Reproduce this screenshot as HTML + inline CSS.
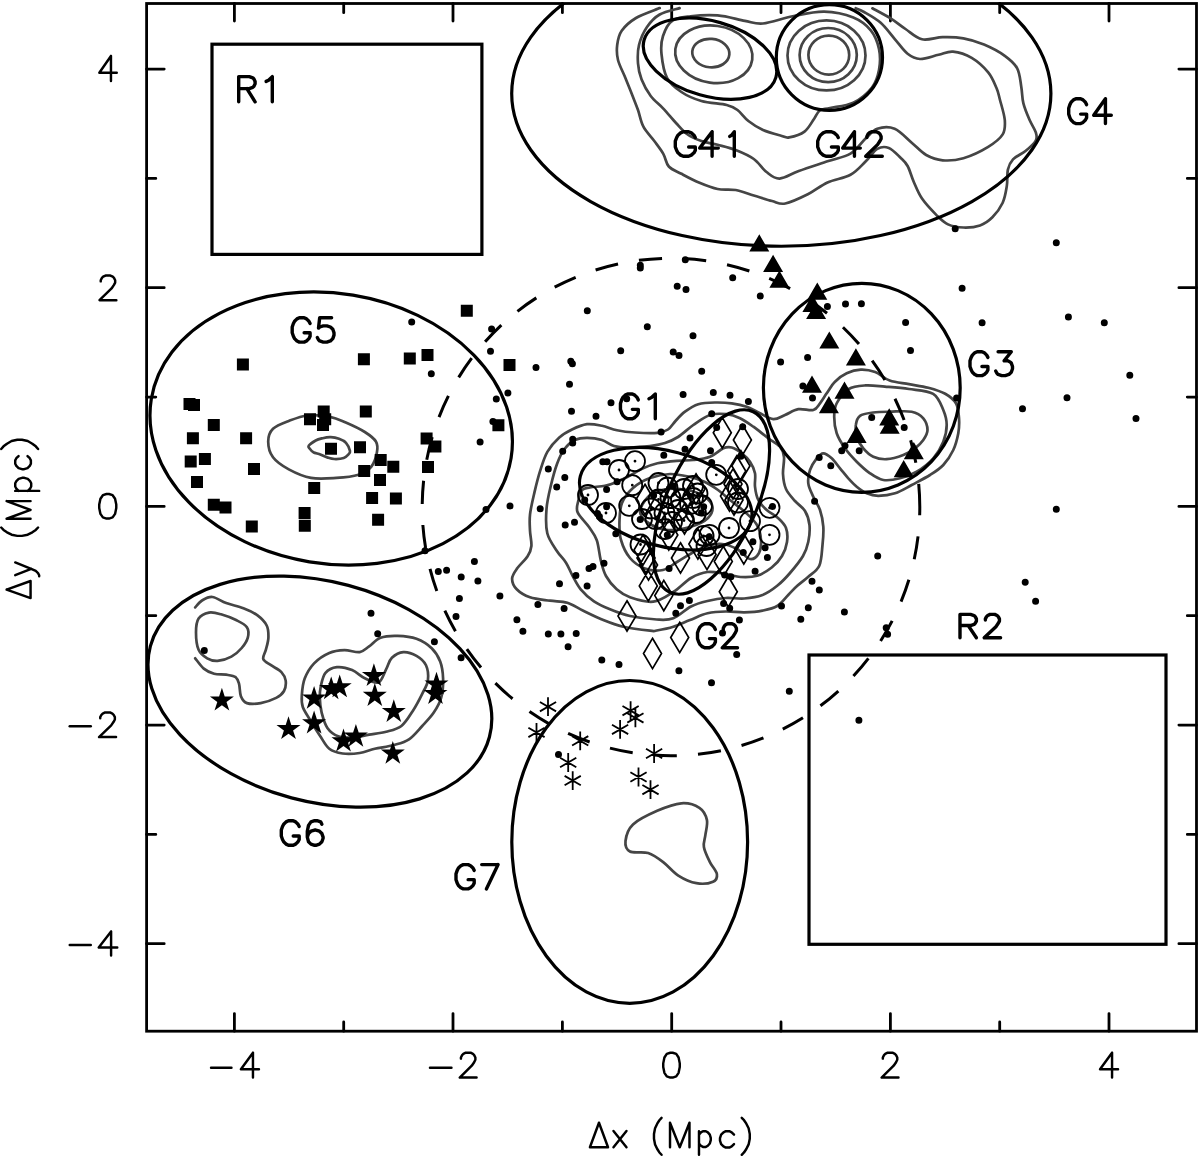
<!DOCTYPE html>
<html><head><meta charset="utf-8"><style>
html,body{margin:0;padding:0;background:#fff;}
svg{display:block;}
text{font-family:"Liberation Sans", sans-serif;fill:#000;}
</style></head><body>
<svg width="1200" height="1160" viewBox="0 0 1200 1160">
<rect width="1200" height="1160" fill="#fff"/>
<rect x="146.6" y="3.5" width="1049.9" height="1027.7" fill="none" stroke="#000" stroke-width="2.8"/>
<path d="M234.4 1031.2V1013.6M234.4 3.5V21.1M146.6 943.7H164.2M1196.5 943.7H1178.9M343.7 1031.2V1022.0M343.7 3.5V12.7M146.6 834.4H155.8M1196.5 834.4H1187.3M453.0 1031.2V1013.6M453.0 3.5V21.1M146.6 725.1H164.2M1196.5 725.1H1178.9M562.4 1031.2V1022.0M562.4 3.5V12.7M146.6 615.7H155.8M1196.5 615.7H1187.3M671.7 1031.2V1013.6M671.7 3.5V21.1M146.6 506.4H164.2M1196.5 506.4H1178.9M781.0 1031.2V1022.0M781.0 3.5V12.7M146.6 397.1H155.8M1196.5 397.1H1187.3M890.4 1031.2V1013.6M890.4 3.5V21.1M146.6 287.7H164.2M1196.5 287.7H1178.9M999.7 1031.2V1022.0M999.7 3.5V12.7M146.6 178.4H155.8M1196.5 178.4H1187.3M1109.0 1031.2V1013.6M1109.0 3.5V21.1M146.6 69.1H164.2M1196.5 69.1H1178.9" stroke="#000" stroke-width="2.8" stroke-linecap="round" fill="none"/>
<defs><clipPath id="cp"><rect x="146.75" y="3.5" width="1049.75" height="1027.8"/></clipPath></defs>
<g clip-path="url(#cp)">
<path d="M659.7 8.1 C655.8 9.8 642.3 14.2 636.0 18.0 C629.7 21.8 624.8 26.3 621.7 30.8 C618.6 35.3 617.8 40.1 617.2 45.0 C616.6 49.9 616.6 54.5 618.0 60.0 C619.4 65.5 622.9 71.8 625.3 77.8 C627.7 83.8 630.5 90.6 632.6 96.0 C634.7 101.4 636.2 104.9 638.0 110.0 C639.8 115.1 640.7 121.5 643.4 126.7 C646.1 131.9 651.0 136.5 654.3 141.0 C657.6 145.5 660.9 149.6 663.3 153.8 C665.7 158.1 665.8 163.2 668.8 166.5 C671.8 169.8 676.3 171.1 681.4 173.8 C686.5 176.5 693.5 180.3 699.5 182.8 C705.5 185.3 711.6 187.8 717.6 189.0 C723.6 190.2 729.7 188.9 735.7 190.0 C741.7 191.1 747.8 193.7 753.8 195.5 C759.8 197.3 766.8 199.7 772.0 201.0 C777.2 202.3 779.2 204.7 785.3 203.5 C791.3 202.3 801.3 197.5 808.3 194.0 C815.3 190.5 820.5 185.6 827.5 182.4 C834.5 179.2 844.1 178.3 850.5 174.8 C856.9 171.3 861.3 165.6 865.8 161.3 C870.3 157.0 873.5 151.1 877.3 148.9 C881.1 146.7 885.0 146.5 888.8 147.9 C892.6 149.3 897.2 154.5 900.3 157.5 C903.4 160.5 905.4 161.9 907.6 166.0 C909.9 170.1 911.4 176.6 913.8 182.0 C916.2 187.4 918.2 193.1 922.0 198.6 C925.8 204.1 932.2 210.8 936.5 215.1 C940.8 219.4 943.5 222.3 948.0 224.4 C952.5 226.5 958.1 227.3 963.4 227.5 C968.7 227.7 975.2 227.1 980.0 225.4 C984.8 223.7 988.6 221.0 992.4 217.2 C996.2 213.4 1000.3 207.9 1002.7 202.7 C1005.1 197.5 1005.9 191.6 1006.8 186.1 C1007.7 180.6 1006.9 174.1 1007.9 169.6 C1008.9 165.1 1010.1 162.4 1013.0 159.3 C1015.9 156.2 1021.7 154.1 1025.5 151.0 C1029.3 147.9 1034.1 143.7 1035.8 140.6 C1037.5 137.5 1036.8 135.8 1035.8 132.4 C1034.8 129.0 1031.7 124.8 1029.6 120.0 C1027.5 115.2 1024.8 108.9 1023.4 103.4 C1022.0 97.9 1022.3 92.8 1021.3 86.9 C1020.3 81.1 1020.0 73.5 1017.2 68.3 C1014.5 63.1 1010.3 59.8 1004.8 55.8 C999.3 51.8 990.9 47.4 984.0 44.5 C977.1 41.6 970.3 39.5 963.4 38.3 C956.5 37.1 949.6 37.0 942.7 37.2 C935.8 37.4 928.2 40.7 922.0 39.3 C915.8 37.9 910.7 32.5 905.5 29.0 C900.3 25.6 896.5 22.1 891.0 18.6 C885.5 15.2 875.5 10.0 872.4 8.3" fill="none" stroke="#454545" stroke-width="2.7" stroke-linejoin="round" stroke-linecap="round"/>
<path d="M679.6 8.1 C676.3 9.2 665.1 11.3 659.7 14.5 C654.3 17.6 650.5 21.9 647.0 27.0 C643.5 32.1 640.5 39.0 639.0 45.0 C637.5 51.0 637.6 57.5 638.0 63.3 C638.4 69.1 639.5 74.1 641.6 79.6 C643.7 85.0 647.1 91.2 650.7 96.0 C654.3 100.8 659.1 104.1 663.3 108.6 C667.5 113.1 672.1 118.8 676.0 123.0 C679.9 127.2 682.7 131.0 686.9 134.0 C691.1 137.0 696.3 139.2 701.4 141.0 C706.5 142.8 711.9 143.3 717.6 144.8 C723.3 146.3 729.7 147.6 735.7 150.0 C741.7 152.4 748.7 155.3 753.8 159.0 C758.9 162.7 762.2 168.7 766.5 172.0 C770.8 175.3 774.2 178.8 779.6 178.6 C785.0 178.4 790.8 173.9 798.8 171.0 C806.8 168.1 818.9 164.2 827.5 161.3 C836.1 158.4 844.1 157.5 850.5 153.7 C856.9 149.9 861.3 142.5 865.8 138.3 C870.3 134.2 872.5 130.4 877.3 128.8 C882.1 127.2 888.9 126.5 894.6 128.8 C900.3 131.1 906.4 138.3 911.7 142.7 C917.0 147.1 921.0 152.1 926.2 155.0 C931.4 157.9 936.5 159.8 942.7 160.3 C948.9 160.8 955.8 160.4 963.4 158.2 C971.0 155.9 981.7 150.8 988.2 146.8 C994.8 142.8 999.9 138.9 1002.7 134.4 C1005.5 129.9 1005.2 125.7 1004.8 120.0 C1004.3 114.3 1001.4 105.3 1000.0 100.0 C998.6 94.7 998.5 92.6 996.5 88.0 C994.5 83.4 992.3 77.4 988.2 72.4 C984.1 67.4 977.6 61.4 971.7 57.9 C965.8 54.4 958.5 52.2 953.0 51.7 C947.5 51.2 944.1 53.6 938.6 54.8 C933.1 56.0 925.2 59.2 920.0 59.0 C914.8 58.8 911.8 57.1 907.6 53.8 C903.4 50.5 899.5 44.5 895.0 39.3 C890.5 34.1 885.9 27.4 880.7 22.8 C875.5 18.2 868.2 14.4 864.0 12.0 C859.8 9.6 857.1 8.8 855.7 8.2" fill="none" stroke="#454545" stroke-width="2.7" stroke-linejoin="round" stroke-linecap="round"/>
<path d="M672.0 20.8 C667.4 24.1 664.8 30.5 663.0 36.0 C661.2 41.5 660.8 47.0 661.5 54.0 C662.2 61.0 663.7 71.5 667.0 77.8 C670.3 84.1 675.7 88.1 681.4 92.0 C687.1 95.9 693.8 98.8 701.4 101.0 C709.0 103.2 720.7 103.5 726.7 105.0 C732.7 106.5 733.9 107.3 737.5 110.0 C741.1 112.7 744.1 117.7 748.4 121.0 C752.6 124.3 757.6 127.5 763.0 130.0 C768.4 132.4 776.6 134.5 781.0 135.7 C785.4 136.9 785.3 138.1 789.2 137.4 C793.1 136.7 800.4 134.7 804.5 131.6 C808.6 128.5 811.5 122.5 814.0 119.0 C816.5 115.5 817.1 112.3 819.8 110.5 C822.5 108.7 824.4 109.3 830.0 108.0 C835.6 106.7 846.3 106.1 853.3 102.7 C860.3 99.3 867.7 93.0 872.0 87.5 C876.3 82.0 877.8 76.4 879.0 70.0 C880.2 63.6 880.4 55.6 879.0 49.0 C877.6 42.4 875.1 35.5 870.8 30.3 C866.5 25.1 861.1 20.6 853.3 17.5 C845.5 14.4 834.3 11.9 824.2 11.7 C814.1 11.5 802.9 14.3 792.7 16.3 C782.5 18.3 771.0 22.8 763.0 23.5 C755.0 24.2 752.4 22.2 744.8 20.8 C737.2 19.4 726.6 16.1 717.6 15.4 C708.6 14.7 698.1 15.4 690.5 16.3 C682.9 17.2 676.6 17.5 672.0 20.8 Z" fill="none" stroke="#454545" stroke-width="2.7" stroke-linejoin="round" stroke-linecap="round"/>
<ellipse cx="713.8" cy="54.3" rx="38.8" ry="28.6" transform="rotate(8 713.8 54.3)" fill="none" stroke="#454545" stroke-width="2.7" />
<ellipse cx="710.8" cy="53.1" rx="18.6" ry="14.2" transform="rotate(5 710.8 53.1)" fill="none" stroke="#454545" stroke-width="2.7" />
<ellipse cx="826.5" cy="55.4" rx="39" ry="35" fill="none" stroke="#454545" stroke-width="2.7" />
<ellipse cx="828.2" cy="55.1" rx="28.6" ry="27.1" fill="none" stroke="#454545" stroke-width="2.7" />
<ellipse cx="828.8" cy="55.1" rx="20.4" ry="19.5" fill="none" stroke="#454545" stroke-width="2.7" />
<path d="M268.2 441.5 C268.2 436.8 269.6 432.2 273.0 428.8 C276.4 425.4 283.0 423.1 288.8 420.9 C294.6 418.7 300.9 416.2 307.8 415.5 C314.7 414.8 323.7 415.6 330.0 416.8 C336.3 418.0 340.0 420.0 345.8 422.5 C351.6 425.0 359.8 428.8 364.8 432.0 C369.8 435.2 373.9 438.1 375.9 441.5 C377.9 444.9 377.7 448.4 376.9 452.6 C376.1 456.8 374.3 463.1 371.2 466.8 C368.1 470.5 364.3 472.9 358.5 474.7 C352.7 476.5 344.2 477.4 336.3 477.9 C328.4 478.4 318.9 479.3 311.0 477.9 C303.1 476.5 295.1 472.8 288.8 469.4 C282.5 466.0 276.4 461.9 273.0 457.3 C269.6 452.7 268.2 446.2 268.2 441.5 Z" fill="none" stroke="#454545" stroke-width="2.7" stroke-linejoin="round" stroke-linecap="round"/>
<path d="M308.7 445.8 C309.7 444.4 313.4 441.8 315.7 440.5 C318.0 439.2 320.2 438.8 322.7 438.2 C325.2 437.6 328.1 437.1 330.8 437.2 C333.5 437.3 336.5 437.9 339.0 438.8 C341.5 439.7 344.2 440.8 346.0 442.8 C347.8 444.8 349.6 449.1 350.0 451.0 C350.4 452.9 349.4 453.3 348.3 454.5 C347.2 455.7 346.0 457.2 343.7 458.0 C341.4 458.8 337.0 459.1 334.3 459.0 C331.6 458.9 329.6 458.1 327.3 457.4 C325.0 456.6 322.6 455.4 320.3 454.5 C318.0 453.6 315.1 453.2 313.3 452.2 C311.6 451.2 310.6 449.8 309.8 448.7 C309.0 447.6 307.7 447.2 308.7 445.8 Z" fill="none" stroke="#454545" stroke-width="2.7" stroke-linejoin="round" stroke-linecap="round"/>
<path d="M195.2 607.4 C196.3 606.2 199.1 602.2 202.0 600.5 C204.9 598.8 208.4 596.6 212.4 597.0 C216.4 597.4 221.0 601.2 226.2 603.1 C231.4 605.0 238.2 606.3 243.4 608.3 C248.6 610.3 253.3 612.3 257.2 615.2 C261.1 618.1 264.8 621.8 266.7 625.5 C268.6 629.2 268.5 633.6 268.4 637.6 C268.3 641.6 266.8 646.1 265.9 649.7 C265.0 653.3 262.4 656.5 263.3 659.1 C264.2 661.7 268.0 663.0 271.0 665.2 C274.0 667.4 278.9 669.5 281.4 672.1 C283.8 674.7 285.3 677.6 285.7 680.7 C286.1 683.9 285.6 688.1 284.0 691.0 C282.4 693.9 280.1 695.9 276.2 697.9 C272.3 699.9 265.6 702.2 260.7 703.1 C255.8 704.0 250.2 704.2 246.9 703.1 C243.6 702.0 242.2 699.4 240.9 696.2 C239.6 693.0 240.0 687.3 239.1 684.1 C238.2 680.9 237.8 678.8 235.7 677.2 C233.5 675.6 229.8 675.3 226.2 674.7 C222.6 674.1 217.8 674.8 214.1 673.8 C210.4 672.8 207.0 671.2 203.8 668.6 C200.7 666.0 196.6 660.0 195.2 658.3" fill="none" stroke="#454545" stroke-width="2.7" stroke-linejoin="round" stroke-linecap="round"/>
<path d="M196.0 632.4 C196.0 627.2 196.4 621.9 198.6 618.6 C200.8 615.3 205.3 613.3 209.0 612.6 C212.7 611.9 216.4 613.0 221.0 614.3 C225.6 615.6 232.3 618.1 236.6 620.3 C240.9 622.4 245.0 624.3 246.9 627.2 C248.8 630.1 248.7 634.1 247.8 637.6 C246.9 641.1 244.4 644.8 241.7 648.0 C239.0 651.2 235.4 654.5 231.4 656.6 C227.4 658.8 221.6 660.6 217.6 660.9 C213.6 661.2 210.4 660.2 207.2 658.3 C204.0 656.4 200.5 654.0 198.6 649.7 C196.7 645.4 196.0 637.6 196.0 632.4 Z" fill="none" stroke="#454545" stroke-width="2.7" stroke-linejoin="round" stroke-linecap="round"/>
<path d="M301.8 695.7 C302.1 691.0 302.6 684.0 304.7 678.6 C306.8 673.2 310.0 667.7 314.1 663.4 C318.2 659.1 324.2 655.2 329.3 653.0 C334.4 650.8 339.4 650.4 344.5 650.2 C349.6 650.1 355.6 652.7 359.7 652.1 C363.8 651.5 365.6 648.8 369.1 646.4 C372.6 644.0 375.8 639.5 380.5 637.8 C385.2 636.0 391.6 635.7 397.6 635.9 C403.6 636.1 410.8 636.7 416.5 638.8 C422.2 640.9 427.8 644.5 431.7 648.3 C435.6 652.1 438.3 656.5 440.2 661.5 C442.1 666.5 442.9 672.6 443.1 678.6 C443.3 684.6 442.8 691.9 441.2 697.6 C439.6 703.3 436.8 708.1 433.6 712.8 C430.4 717.5 426.3 721.6 422.2 726.0 C418.1 730.4 413.7 736.1 409.0 739.3 C404.3 742.5 399.5 743.4 393.8 745.0 C388.1 746.6 380.5 747.5 374.8 748.8 C369.1 750.1 365.1 752.2 359.7 753.0 C354.3 753.8 347.7 754.2 342.6 753.5 C337.5 752.8 333.1 751.8 329.3 748.8 C325.5 745.8 323.0 740.2 319.8 735.5 C316.6 730.8 313.1 725.0 310.3 720.3 C307.5 715.5 304.2 711.1 302.8 707.0 C301.4 702.9 301.5 700.4 301.8 695.7 Z" fill="none" stroke="#454545" stroke-width="2.7" stroke-linejoin="round" stroke-linecap="round"/>
<path d="M320.8 686.2 C321.8 682.1 322.8 676.1 325.5 672.9 C328.2 669.7 332.5 667.7 336.9 667.2 C341.3 666.7 347.4 668.2 352.1 670.1 C356.8 672.0 360.9 676.6 365.3 678.6 C369.7 680.6 375.1 684.0 378.6 682.4 C382.1 680.8 384.0 673.2 386.2 669.1 C388.4 665.0 389.0 660.6 391.9 657.8 C394.8 655.0 399.2 652.4 403.3 652.1 C407.4 651.8 412.7 653.7 416.5 655.9 C420.3 658.1 424.1 661.2 426.0 665.3 C427.9 669.4 428.5 675.8 427.9 680.5 C427.3 685.2 424.7 688.7 422.2 693.8 C419.7 698.9 416.3 705.5 412.8 710.9 C409.3 716.3 405.8 722.5 401.4 726.0 C397.0 729.5 391.6 730.3 386.2 731.7 C380.8 733.1 374.5 733.7 369.1 734.6 C363.7 735.5 359.1 737.1 354.0 737.4 C348.9 737.7 343.2 738.1 338.8 736.5 C334.4 734.9 330.2 731.9 327.4 727.9 C324.5 723.9 323.0 717.8 321.7 712.8 C320.4 707.8 319.9 702.0 319.8 697.6 C319.7 693.2 319.9 690.3 320.8 686.2 Z" fill="none" stroke="#454545" stroke-width="2.7" stroke-linejoin="round" stroke-linecap="round"/>
<path d="M625.5 841.0 C626.0 836.5 627.7 829.4 633.0 824.4 C638.3 819.4 649.2 814.3 657.2 810.8 C665.2 807.3 674.3 803.8 681.3 803.3 C688.3 802.8 695.1 805.0 699.4 807.8 C703.7 810.6 705.9 815.4 706.9 819.9 C707.9 824.4 705.9 830.4 705.4 834.9 C704.9 839.4 703.1 842.5 703.9 847.0 C704.6 851.5 707.7 857.6 709.9 862.1 C712.1 866.6 716.4 870.8 716.9 874.1 C717.4 877.4 716.4 880.2 713.0 881.7 C709.6 883.2 702.2 884.2 696.4 883.2 C690.6 882.2 683.8 879.1 678.3 875.6 C672.8 872.1 668.2 865.9 663.2 862.1 C658.2 858.3 653.6 854.8 648.1 853.0 C642.6 851.2 633.8 853.5 630.0 851.5 C626.2 849.5 625.0 845.5 625.5 841.0 Z" fill="none" stroke="#454545" stroke-width="2.7" stroke-linejoin="round" stroke-linecap="round"/>
<path d="M512.1 578.6 C512.2 575.1 514.6 572.0 517.2 568.3 C519.8 564.6 525.2 559.9 527.6 556.2 C530.0 552.5 531.0 550.2 531.4 546.0 C531.8 541.8 530.2 535.9 530.0 530.7 C529.8 525.5 529.3 521.0 530.0 514.6 C530.7 508.2 532.7 499.9 534.4 492.6 C536.1 485.3 538.0 477.4 540.2 470.6 C542.4 463.8 544.3 457.1 547.5 451.6 C550.7 446.1 555.2 441.2 559.3 437.5 C563.4 433.8 567.4 431.7 572.0 429.5 C576.6 427.3 582.0 424.9 587.0 424.2 C592.0 423.6 597.0 424.8 602.0 425.8 C607.0 426.8 611.5 429.1 617.0 430.2 C622.5 431.4 628.2 432.1 635.0 432.5 C641.8 432.9 652.0 433.3 657.5 432.8 C663.0 432.3 665.0 431.5 668.0 429.5 C671.0 427.5 672.7 424.0 675.5 421.0 C678.3 418.0 681.2 414.5 685.0 411.7 C688.8 408.9 693.3 405.7 698.3 404.2 C703.3 402.7 709.4 402.6 715.0 402.5 C720.6 402.4 726.4 402.6 731.7 403.3 C737.0 404.0 742.0 405.0 746.7 406.7 C751.4 408.4 755.6 411.2 760.0 413.3 C764.4 415.4 769.1 418.9 773.3 419.2 C777.5 419.5 780.8 416.7 785.0 415.0 C789.2 413.3 793.6 410.0 798.3 409.2 C803.0 408.4 809.7 411.0 813.3 410.0 C816.9 409.0 817.8 406.1 820.0 403.3 C822.2 400.5 824.2 396.9 826.7 393.3 C829.2 389.7 831.7 385.0 835.0 381.7 C838.3 378.4 842.4 375.3 846.7 373.3 C851.0 371.3 856.0 369.9 860.7 369.7 C865.5 369.5 870.4 370.3 875.2 372.1 C880.0 373.9 884.1 378.6 889.7 380.6 C895.3 382.6 902.6 383.0 909.0 384.2 C915.4 385.4 922.3 386.2 928.3 387.8 C934.3 389.4 940.6 391.2 945.2 393.8 C949.8 396.4 953.8 399.5 956.1 403.5 C958.4 407.5 958.6 413.0 959.0 418.0 C959.4 423.0 959.2 428.0 958.3 433.3 C957.3 438.6 955.8 444.7 953.3 450.0 C950.8 455.3 947.2 460.8 943.3 465.0 C939.4 469.2 935.3 471.7 930.0 475.0 C924.7 478.3 917.5 481.9 911.7 485.0 C905.9 488.1 900.6 491.5 895.0 493.3 C889.4 495.1 883.0 495.8 878.3 495.8 C873.6 495.8 870.3 494.8 866.7 493.3 C863.1 491.8 859.8 489.2 856.7 486.7 C853.6 484.2 851.1 481.4 848.3 478.3 C845.5 475.2 842.8 471.6 840.0 468.3 C837.2 465.0 834.5 460.8 831.7 458.3 C828.9 455.8 825.8 453.3 823.3 453.3 C820.8 453.3 818.9 455.5 816.7 458.3 C814.5 461.1 811.4 465.8 810.0 470.0 C808.6 474.2 807.8 478.9 808.3 483.3 C808.8 487.8 811.3 492.2 813.3 496.7 C815.2 501.1 818.3 505.0 820.0 510.0 C821.7 515.0 822.9 520.9 823.3 526.7 C823.7 532.5 823.2 538.5 822.5 545.0 C821.8 551.5 821.7 560.4 819.3 565.7 C816.9 571.0 812.0 573.4 808.3 576.7 C804.6 580.1 800.6 582.8 797.3 585.8 C793.9 588.8 791.6 591.6 788.2 595.0 C784.9 598.4 781.5 603.4 777.2 606.0 C772.9 608.6 768.0 609.5 762.5 610.6 C757.0 611.7 750.3 612.2 744.2 612.4 C738.1 612.5 731.9 611.4 725.8 611.5 C719.7 611.6 713.5 611.9 707.5 613.3 C701.5 614.7 695.7 617.8 690.0 620.0 C684.3 622.2 678.8 625.0 673.3 626.7 C667.8 628.5 660.6 629.8 656.7 630.5 C652.8 631.2 655.6 631.3 650.0 630.7 C644.4 630.1 631.1 628.5 623.3 626.7 C615.5 624.9 610.0 622.7 603.3 620.0 C596.6 617.3 589.3 613.6 583.3 610.7 C577.3 607.8 572.8 604.4 567.3 602.7 C561.8 601.0 556.2 601.6 550.0 600.7 C543.8 599.8 535.5 599.2 530.0 597.3 C524.5 595.4 519.7 592.4 516.7 589.3 C513.7 586.2 512.0 582.1 512.1 578.6 Z" fill="none" stroke="#454545" stroke-width="2.7" stroke-linejoin="round" stroke-linecap="round"/>
<path d="M546.5 509.0 C547.1 500.9 549.2 492.5 551.0 485.0 C552.8 477.5 554.8 470.0 557.0 464.0 C559.2 458.0 561.5 453.0 564.5 449.0 C567.5 445.0 571.2 441.9 575.0 440.0 C578.8 438.1 582.5 437.8 587.0 437.8 C591.5 437.8 597.5 438.6 602.0 440.0 C606.5 441.4 609.8 444.8 614.0 446.0 C618.2 447.2 621.5 447.5 627.5 447.5 C633.5 447.5 643.8 446.8 650.0 446.0 C656.2 445.2 660.3 444.5 665.0 443.0 C669.7 441.5 673.3 440.0 678.0 437.0 C682.7 434.0 688.0 428.7 693.3 425.0 C698.6 421.3 704.4 416.8 710.0 415.0 C715.6 413.2 721.7 413.6 726.7 414.2 C731.7 414.8 735.6 416.2 740.0 418.3 C744.4 420.4 748.6 423.4 753.3 426.7 C758.0 430.0 763.8 435.0 768.3 438.3 C772.8 441.6 777.4 443.6 780.0 446.7 C782.6 449.8 783.5 452.4 784.0 457.0 C784.5 461.6 782.7 468.7 783.0 474.0 C783.3 479.3 784.0 484.5 786.0 489.0 C788.0 493.5 791.8 497.3 795.0 501.0 C798.2 504.7 802.6 507.0 805.0 511.0 C807.4 515.0 809.0 519.9 809.5 525.0 C810.0 530.1 809.4 536.5 808.3 541.7 C807.2 546.9 806.0 550.8 803.0 556.0 C800.0 561.2 794.3 568.0 790.0 573.0 C785.7 578.0 781.8 582.1 777.2 585.8 C772.6 589.5 768.0 592.9 762.5 595.0 C757.0 597.1 750.3 598.0 744.2 598.5 C738.1 599.0 731.9 597.6 725.8 598.0 C719.7 598.4 713.3 599.6 707.5 601.0 C701.7 602.4 696.7 603.6 691.0 606.5 C685.3 609.4 679.0 616.1 673.3 618.3 C667.6 620.5 663.9 619.9 656.7 619.5 C649.5 619.1 637.8 617.7 630.0 616.0 C622.2 614.3 616.0 611.8 610.0 609.3 C604.0 606.8 598.9 604.6 594.0 601.3 C589.1 598.0 584.2 593.5 580.7 589.3 C577.2 585.1 575.2 580.4 572.7 576.0 C570.2 571.6 568.7 566.9 566.0 562.7 C563.3 558.5 559.8 555.6 556.7 550.7 C553.6 545.8 549.0 540.2 547.3 533.3 C545.6 526.3 545.9 517.0 546.5 509.0 Z" fill="none" stroke="#454545" stroke-width="2.7" stroke-linejoin="round" stroke-linecap="round"/>
<path d="M577.5 512.0 C575.8 507.5 577.8 503.7 578.5 500.0 C579.2 496.3 580.1 492.1 582.0 490.0 C583.9 487.9 586.2 488.2 590.0 487.5 C593.8 486.8 600.5 486.7 605.0 485.8 C609.5 484.8 613.0 483.6 617.0 482.0 C621.0 480.4 624.8 478.2 629.0 476.0 C633.2 473.8 637.8 470.6 642.5 468.5 C647.2 466.4 651.8 464.5 657.5 463.2 C663.2 462.0 670.7 461.3 676.7 460.8 C682.7 460.3 687.8 460.7 693.3 460.0 C698.8 459.3 705.0 458.6 710.0 456.7 C715.0 454.8 719.7 449.8 723.3 448.3 C726.9 446.8 728.6 446.7 731.7 447.5 C734.8 448.3 738.7 450.9 741.7 453.3 C744.8 455.7 747.8 458.4 750.0 461.7 C752.2 465.0 754.2 469.1 755.0 473.3 C755.8 477.5 754.5 482.2 755.0 486.7 C755.5 491.1 756.3 496.1 758.3 500.0 C760.2 503.9 763.4 507.0 766.7 510.0 C770.0 513.0 774.8 515.0 778.0 518.0 C781.2 521.0 784.5 524.0 786.0 528.0 C787.5 532.0 787.7 537.3 787.0 542.0 C786.3 546.7 784.5 551.8 782.0 556.0 C779.5 560.2 775.9 564.2 771.7 567.5 C767.5 570.8 762.2 574.2 757.0 575.8 C751.8 577.4 745.7 577.3 740.5 577.0 C735.3 576.7 731.3 574.8 725.8 574.0 C720.3 573.2 713.3 571.3 707.5 572.0 C701.7 572.7 696.7 574.7 691.0 578.0 C685.3 581.3 679.6 588.0 673.3 592.0 C667.0 596.0 660.5 600.8 653.3 601.7 C646.1 602.6 636.1 599.4 630.0 597.3 C623.9 595.2 620.7 592.8 616.7 589.3 C612.7 585.8 608.7 580.9 606.0 576.0 C603.3 571.1 602.2 566.0 600.7 560.0 C599.2 554.0 598.7 545.5 596.7 540.0 C594.8 534.5 592.2 531.7 589.0 527.0 C585.8 522.3 579.2 516.5 577.5 512.0 Z" fill="none" stroke="#454545" stroke-width="2.7" stroke-linejoin="round" stroke-linecap="round"/>
<path d="M619.5 520.5 C619.3 526.7 619.2 533.8 621.0 540.0 C622.8 546.2 626.0 553.2 630.0 558.0 C634.0 562.8 639.5 566.5 645.0 568.5 C650.5 570.5 657.7 571.1 663.0 570.0 C668.3 568.9 672.2 564.8 677.0 562.0 C681.8 559.2 687.0 555.7 692.0 553.0 C697.0 550.3 702.0 547.5 707.0 546.0 C712.0 544.5 717.0 543.5 722.0 544.0 C727.0 544.5 732.3 546.5 737.0 549.0 C741.7 551.5 746.3 558.3 750.0 559.0 C753.7 559.7 757.2 556.2 759.0 553.0 C760.8 549.8 761.3 544.7 761.0 540.0 C760.7 535.3 759.7 529.7 757.0 525.0 C754.3 520.3 749.5 516.2 745.0 512.0 C740.5 507.8 734.5 503.7 730.0 500.0 C725.5 496.3 722.2 493.0 718.0 490.0 C713.8 487.0 709.7 484.2 705.0 482.0 C700.3 479.8 695.8 478.3 690.0 477.0 C684.2 475.7 676.7 473.8 670.0 474.0 C663.3 474.2 656.2 475.7 650.0 478.0 C643.8 480.3 637.7 483.8 633.0 488.0 C628.3 492.2 624.2 497.6 622.0 503.0 C619.8 508.4 619.7 514.3 619.5 520.5 Z" fill="none" stroke="#454545" stroke-width="2.7" stroke-linejoin="round" stroke-linecap="round"/>
<path d="M640.0 512.0 C639.7 507.5 644.3 500.7 648.0 497.0 C651.7 493.3 656.7 491.3 662.0 490.0 C667.3 488.7 673.7 488.3 680.0 489.0 C686.3 489.7 694.7 491.3 700.0 494.0 C705.3 496.7 710.7 501.0 712.0 505.0 C713.3 509.0 711.7 514.3 708.0 518.0 C704.3 521.7 696.7 525.0 690.0 527.0 C683.3 529.0 674.7 530.5 668.0 530.0 C661.3 529.5 654.7 527.0 650.0 524.0 C645.3 521.0 640.3 516.5 640.0 512.0 Z" fill="none" stroke="#454545" stroke-width="2.7" stroke-linejoin="round" stroke-linecap="round"/>
<path d="M860.0 415.8 C862.9 413.7 868.3 413.2 873.3 412.5 C878.3 411.8 883.6 411.8 890.0 411.7 C896.4 411.6 906.2 410.6 911.7 411.7 C917.2 412.8 920.7 415.2 923.3 418.3 C925.9 421.4 927.5 426.4 927.5 430.0 C927.5 433.6 925.4 436.9 923.3 440.0 C921.2 443.1 918.3 445.8 915.0 448.3 C911.7 450.8 908.0 453.2 903.3 455.0 C898.6 456.8 891.7 458.9 886.7 459.2 C881.7 459.5 877.2 458.5 873.3 456.7 C869.4 454.9 866.1 451.6 863.3 448.3 C860.5 445.0 858.0 440.6 856.7 436.7 C855.5 432.8 855.2 428.5 855.8 425.0 C856.3 421.5 857.1 417.9 860.0 415.8 Z" fill="none" stroke="#454545" stroke-width="2.7" stroke-linejoin="round" stroke-linecap="round"/>
<path d="M834.2 416.7 C834.2 411.7 834.2 408.1 836.6 403.5 C839.0 398.9 843.9 392.0 848.7 389.0 C853.5 386.0 859.6 385.8 865.6 385.4 C871.6 385.0 877.7 386.0 884.9 386.6 C892.1 387.2 901.0 387.8 909.0 389.0 C917.0 390.2 927.5 390.3 933.2 393.8 C938.9 397.3 941.0 404.8 943.3 410.0 C945.5 415.2 946.7 419.7 946.7 425.0 C946.7 430.3 945.5 436.1 943.3 441.7 C941.1 447.2 937.7 453.3 933.3 458.3 C928.9 463.3 922.2 468.4 916.7 471.7 C911.2 475.0 905.6 476.9 900.0 478.3 C894.4 479.7 888.3 480.8 883.3 480.0 C878.3 479.2 874.4 476.4 870.0 473.3 C865.6 470.2 860.9 465.9 856.7 461.7 C852.5 457.5 848.3 453.0 845.0 448.3 C841.7 443.6 838.5 438.6 836.7 433.3 C834.9 428.0 834.2 421.7 834.2 416.7 Z" fill="none" stroke="#454545" stroke-width="2.7" stroke-linejoin="round" stroke-linecap="round"/>
<ellipse cx="781.3" cy="93.55" rx="269.6" ry="152.7" fill="none" stroke="#000" stroke-width="3.2" />
<ellipse cx="710" cy="58.7" rx="68.5" ry="37.5" transform="rotate(15.8 710 58.7)" fill="none" stroke="#000" stroke-width="3.2" />
<ellipse cx="829.4" cy="57.5" rx="53.1" ry="52.8" fill="none" stroke="#000" stroke-width="3.2" />
<ellipse cx="331.2" cy="428.5" rx="182.3" ry="135.1" transform="rotate(9.3 331.2 428.5)" fill="none" stroke="#000" stroke-width="3.2" />
<ellipse cx="319.9" cy="691.6" rx="175.5" ry="110" transform="rotate(15.0 319.9 691.6)" fill="none" stroke="#000" stroke-width="3.2" />
<ellipse cx="629.7" cy="841.9" rx="117.9" ry="161.4" fill="none" stroke="#000" stroke-width="3.2" />
<ellipse cx="861.8" cy="387.8" rx="98.4" ry="104.5" fill="none" stroke="#000" stroke-width="3.2" />
<ellipse cx="665.7" cy="498.7" rx="88.3" ry="47.5" transform="rotate(14.8 665.7 498.7)" fill="none" stroke="#000" stroke-width="3.2" />
<ellipse cx="711.5" cy="502" rx="99.5" ry="44.5" transform="rotate(-65.2 711.5 502)" fill="none" stroke="#000" stroke-width="3.2" />
<path d="M919.8 507A248.8 248.8 0 0 0 422.2 507A248.8 248.8 0 0 0 919.8 507" fill="none" stroke="#000" stroke-width="3.0" stroke-dasharray="23.2 21.2"/>
</g>
<rect x="212" y="44.2" width="269.9" height="210.2" fill="none" stroke="#000" stroke-width="3.2"/>
<rect x="809" y="655" width="357" height="289.3" fill="none" stroke="#000" stroke-width="3.2"/>
<path d="M236.9 358.5h12v12h-12ZM183.5 398.0h12v12h-12ZM188.0 399.0h12v12h-12ZM207.8 419.0h12v12h-12ZM186.9 432.3h12v12h-12ZM198.9 452.9h12v12h-12ZM184.7 455.4h12v12h-12ZM191.0 476.0h12v12h-12ZM207.8 498.8h12v12h-12ZM219.5 501.4h12v12h-12ZM245.8 520.4h12v12h-12ZM240.1 432.3h12v12h-12ZM248.0 463.0h12v12h-12ZM298.6 507.0h12v12h-12ZM298.8 519.8h12v12h-12ZM308.2 482.0h12v12h-12ZM304.0 413.3h12v12h-12ZM317.7 405.4h12v12h-12ZM319.2 413.3h12v12h-12ZM317.0 419.0h12v12h-12ZM325.0 442.8h12v12h-12ZM354.0 441.2h12v12h-12ZM359.8 405.4h12v12h-12ZM357.9 353.2h12v12h-12ZM403.8 352.5h12v12h-12ZM421.5 349.0h12v12h-12ZM460.8 304.7h12v12h-12ZM503.5 358.9h12v12h-12ZM374.7 453.9h12v12h-12ZM387.3 460.8h12v12h-12ZM358.2 465.0h12v12h-12ZM374.0 474.1h12v12h-12ZM366.1 491.9h12v12h-12ZM389.9 492.5h12v12h-12ZM372.1 513.7h12v12h-12ZM420.6 432.4h12v12h-12ZM429.4 440.6h12v12h-12ZM422.0 461.0h12v12h-12ZM492.4 419.2h12v12h-12Z" fill="#000"/>
<path d="M221.9 687.8L224.7 696.5L233.9 696.5L226.5 701.9L229.3 710.6L221.9 705.2L214.5 710.6L217.3 701.9L209.9 696.5L219.1 696.5ZM288.5 716.3L291.3 725.0L300.5 725.0L293.1 730.4L295.9 739.1L288.5 733.7L281.1 739.1L283.9 730.4L276.5 725.0L285.7 725.0ZM314.1 685.9L316.9 694.6L326.1 694.6L318.7 700.0L321.5 708.7L314.1 703.3L306.7 708.7L309.5 700.0L302.1 694.6L311.3 694.6ZM314.1 710.6L316.9 719.3L326.1 719.3L318.7 724.7L321.5 733.4L314.1 728.0L306.7 733.4L309.5 724.7L302.1 719.3L311.3 719.3ZM331.2 676.4L334.0 685.1L343.2 685.1L335.8 690.5L338.6 699.2L331.2 693.8L323.8 699.2L326.6 690.5L319.2 685.1L328.4 685.1ZM339.7 674.5L342.5 683.2L351.7 683.2L344.3 688.6L347.1 697.3L339.7 691.9L332.3 697.3L335.1 688.6L327.7 683.2L336.9 683.2ZM373.9 663.2L376.7 671.9L385.9 671.9L378.5 677.3L381.3 686.0L373.9 680.6L366.5 686.0L369.3 677.3L361.9 671.9L371.1 671.9ZM374.8 683.1L377.6 691.8L386.8 691.8L379.4 697.2L382.2 705.9L374.8 700.5L367.4 705.9L370.2 697.2L362.8 691.8L372.0 691.8ZM393.8 699.2L396.6 707.9L405.8 707.9L398.4 713.3L401.2 722.0L393.8 716.6L386.4 722.0L389.2 713.3L381.8 707.9L391.0 707.9ZM343.5 728.6L346.3 737.3L355.5 737.3L348.1 742.7L350.9 751.4L343.5 746.0L336.1 751.4L338.9 742.7L331.5 737.3L340.7 737.3ZM355.9 723.9L358.7 732.6L367.9 732.6L360.5 738.0L363.3 746.7L355.9 741.3L348.5 746.7L351.3 738.0L343.9 732.6L353.1 732.6ZM392.8 740.9L395.6 749.6L404.8 749.6L397.4 755.0L400.2 763.7L392.8 758.3L385.4 763.7L388.2 755.0L380.8 749.6L390.0 749.6ZM436.5 671.7L439.3 680.4L448.5 680.4L441.1 685.8L443.9 694.5L436.5 689.1L429.1 694.5L431.9 685.8L424.5 680.4L433.7 680.4ZM435.5 681.2L438.3 689.9L447.5 689.9L440.1 695.3L442.9 704.0L435.5 698.6L428.1 704.0L430.9 695.3L423.5 689.9L432.7 689.9Z" fill="#000"/>
<path d="M759.3 234.2L769.3 251.6L749.3 251.6ZM773.1 254.8L783.1 272.1L763.1 272.1ZM779.4 270.6L789.4 287.8L769.4 287.8ZM817.3 282.6L827.3 299.8L807.3 299.8ZM812.4 294.7L822.4 311.9L802.4 311.9ZM816.1 301.9L826.1 319.1L806.1 319.1ZM829.3 331.4L839.3 348.6L819.3 348.6ZM855.9 348.2L865.9 365.5L845.9 365.5ZM812.0 375.6L822.0 392.8L802.0 392.8ZM844.5 381.6L854.5 398.8L834.5 398.8ZM828.9 396.1L838.9 413.3L818.9 413.3ZM889.2 408.2L899.2 425.4L879.2 425.4ZM889.7 416.6L899.7 433.8L879.7 433.8ZM856.6 425.8L866.6 443.0L846.6 443.0ZM913.8 442.0L923.8 459.2L903.8 459.2ZM903.7 460.1L913.7 477.3L893.7 477.3Z" fill="#000"/>
<path d="M548.0 697.3V716.1M539.9 702.0L556.1 711.4M539.9 711.4L556.1 702.0M536.5 723.0V741.8M528.4 727.7L544.6 737.1M528.4 737.1L544.6 727.7M580.2 731.4V750.2M572.1 736.1L588.3 745.5M572.1 745.5L588.3 736.1M568.2 753.1V771.9M560.1 757.8L576.3 767.2M560.1 767.2L576.3 757.8M572.7 771.2V790.0M564.6 775.9L580.8 785.3M564.6 785.3L580.8 775.9M630.6 701.3V720.1M622.5 706.0L638.7 715.4M622.5 715.4L638.7 706.0M635.4 708.5V727.3M627.3 713.2L643.5 722.6M627.3 722.6L643.5 713.2M620.1 720.0V738.8M612.0 724.7L628.2 734.1M612.0 734.1L628.2 724.7M654.1 744.1V762.9M646.0 748.8L662.2 758.2M646.0 758.2L662.2 748.8M638.5 767.6V786.4M630.4 772.3L646.6 781.7M630.4 781.7L646.6 772.3M650.5 780.3V799.1M642.4 785.0L658.6 794.4M642.4 794.4L658.6 785.0" stroke="#000" stroke-width="1.8" fill="none"/>
<path d="M722.3 417.6L731.3 432.8L722.3 448.0L713.3 432.8ZM742.4 424.8L751.4 440.0L742.4 455.2L733.4 440.0ZM740.9 450.7L749.9 465.9L740.9 481.1L731.9 465.9ZM736.7 455.8L745.7 471.0L736.7 486.2L727.7 471.0ZM733.0 468.8L742.0 484.0L733.0 499.2L724.0 484.0ZM729.5 480.8L738.5 496.0L729.5 511.2L720.5 496.0ZM734.0 484.8L743.0 500.0L734.0 515.2L725.0 500.0ZM645.0 484.3L654.0 499.5L645.0 514.7L636.0 499.5ZM684.5 503.8L693.5 519.0L684.5 534.2L675.5 519.0ZM696.0 473.8L705.0 489.0L696.0 504.2L687.0 489.0ZM668.8 519.8L677.8 535.0L668.8 550.2L659.8 535.0ZM697.9 528.8L706.9 544.0L697.9 559.2L688.9 544.0ZM643.0 534.8L652.0 550.0L643.0 565.2L634.0 550.0ZM646.0 542.8L655.0 558.0L646.0 573.2L637.0 558.0ZM648.5 549.8L657.5 565.0L648.5 580.2L639.5 565.0ZM648.3 570.7L657.3 585.9L648.3 601.1L639.3 585.9ZM663.8 580.4L672.8 595.6L663.8 610.8L654.8 595.6ZM680.5 542.8L689.5 558.0L680.5 573.2L671.5 558.0ZM627.0 600.8L636.0 616.0L627.0 631.2L618.0 616.0ZM652.5 638.3L661.5 653.5L652.5 668.7L643.5 653.5ZM679.7 622.3L688.7 637.5L679.7 652.7L670.7 637.5ZM728.3 576.5L737.3 591.7L728.3 606.9L719.3 591.7ZM723.3 546.3L732.3 561.5L723.3 576.7L714.3 561.5ZM707.0 539.3L716.0 554.5L707.0 569.7L698.0 554.5ZM743.8 533.8L752.8 549.0L743.8 564.2L734.8 549.0Z" fill="none" stroke="#000" stroke-width="1.7" stroke-linejoin="miter"/>
<path d="M578.0 495.0a10 10 0 1 0 20 0a10 10 0 1 0 -20 0ZM596.0 513.0a10 10 0 1 0 20 0a10 10 0 1 0 -20 0ZM609.0 470.0a10 10 0 1 0 20 0a10 10 0 1 0 -20 0ZM625.0 461.2a10 10 0 1 0 20 0a10 10 0 1 0 -20 0ZM622.2 485.2a10 10 0 1 0 20 0a10 10 0 1 0 -20 0ZM619.2 505.8a10 10 0 1 0 20 0a10 10 0 1 0 -20 0ZM648.5 483.0a10 10 0 1 0 20 0a10 10 0 1 0 -20 0ZM706.2 474.8a10 10 0 1 0 20 0a10 10 0 1 0 -20 0ZM719.0 528.0a10 10 0 1 0 20 0a10 10 0 1 0 -20 0ZM740.0 521.2a10 10 0 1 0 20 0a10 10 0 1 0 -20 0ZM759.5 507.8a10 10 0 1 0 20 0a10 10 0 1 0 -20 0ZM759.5 534.8a10 10 0 1 0 20 0a10 10 0 1 0 -20 0ZM699.5 534.8a10 10 0 1 0 20 0a10 10 0 1 0 -20 0ZM696.5 546.0a10 10 0 1 0 20 0a10 10 0 1 0 -20 0ZM728.0 502.5a10 10 0 1 0 20 0a10 10 0 1 0 -20 0ZM728.0 489.0a10 10 0 1 0 20 0a10 10 0 1 0 -20 0ZM630.5 544.5a10 10 0 1 0 20 0a10 10 0 1 0 -20 0ZM632.0 519.0a10 10 0 1 0 20 0a10 10 0 1 0 -20 0ZM660.5 498.0a10 10 0 1 0 20 0a10 10 0 1 0 -20 0ZM674.0 489.0a10 10 0 1 0 20 0a10 10 0 1 0 -20 0ZM683.0 486.0a10 10 0 1 0 20 0a10 10 0 1 0 -20 0ZM692.0 505.5a10 10 0 1 0 20 0a10 10 0 1 0 -20 0ZM680.0 504.0a10 10 0 1 0 20 0a10 10 0 1 0 -20 0ZM668.0 510.0a10 10 0 1 0 20 0a10 10 0 1 0 -20 0ZM654.5 513.0a10 10 0 1 0 20 0a10 10 0 1 0 -20 0ZM645.5 519.0a10 10 0 1 0 20 0a10 10 0 1 0 -20 0ZM662.0 522.0a10 10 0 1 0 20 0a10 10 0 1 0 -20 0ZM674.0 520.5a10 10 0 1 0 20 0a10 10 0 1 0 -20 0ZM686.0 513.0a10 10 0 1 0 20 0a10 10 0 1 0 -20 0ZM687.5 493.5a10 10 0 1 0 20 0a10 10 0 1 0 -20 0ZM657.5 487.5a10 10 0 1 0 20 0a10 10 0 1 0 -20 0ZM648.5 499.5a10 10 0 1 0 20 0a10 10 0 1 0 -20 0ZM641.0 508.5a10 10 0 1 0 20 0a10 10 0 1 0 -20 0ZM671.0 499.5a10 10 0 1 0 20 0a10 10 0 1 0 -20 0ZM683.0 498.0a10 10 0 1 0 20 0a10 10 0 1 0 -20 0ZM693.6 535.9a10 10 0 1 0 20 0a10 10 0 1 0 -20 0ZM654.8 529.0a10 10 0 1 0 20 0a10 10 0 1 0 -20 0Z" fill="none" stroke="#000" stroke-width="1.8"/>
<path d="M586.6 495.0a1.4 1.4 0 1 0 2.8 0a1.4 1.4 0 1 0 -2.8 0ZM604.6 513.0a1.4 1.4 0 1 0 2.8 0a1.4 1.4 0 1 0 -2.8 0ZM617.6 470.0a1.4 1.4 0 1 0 2.8 0a1.4 1.4 0 1 0 -2.8 0ZM633.6 461.2a1.4 1.4 0 1 0 2.8 0a1.4 1.4 0 1 0 -2.8 0ZM630.9 485.2a1.4 1.4 0 1 0 2.8 0a1.4 1.4 0 1 0 -2.8 0ZM627.9 505.8a1.4 1.4 0 1 0 2.8 0a1.4 1.4 0 1 0 -2.8 0ZM657.1 483.0a1.4 1.4 0 1 0 2.8 0a1.4 1.4 0 1 0 -2.8 0ZM714.9 474.8a1.4 1.4 0 1 0 2.8 0a1.4 1.4 0 1 0 -2.8 0ZM727.6 528.0a1.4 1.4 0 1 0 2.8 0a1.4 1.4 0 1 0 -2.8 0ZM748.6 521.2a1.4 1.4 0 1 0 2.8 0a1.4 1.4 0 1 0 -2.8 0ZM768.1 507.8a1.4 1.4 0 1 0 2.8 0a1.4 1.4 0 1 0 -2.8 0ZM768.1 534.8a1.4 1.4 0 1 0 2.8 0a1.4 1.4 0 1 0 -2.8 0ZM708.1 534.8a1.4 1.4 0 1 0 2.8 0a1.4 1.4 0 1 0 -2.8 0ZM705.1 546.0a1.4 1.4 0 1 0 2.8 0a1.4 1.4 0 1 0 -2.8 0ZM736.6 502.5a1.4 1.4 0 1 0 2.8 0a1.4 1.4 0 1 0 -2.8 0ZM736.6 489.0a1.4 1.4 0 1 0 2.8 0a1.4 1.4 0 1 0 -2.8 0ZM639.1 544.5a1.4 1.4 0 1 0 2.8 0a1.4 1.4 0 1 0 -2.8 0ZM640.6 519.0a1.4 1.4 0 1 0 2.8 0a1.4 1.4 0 1 0 -2.8 0ZM669.1 498.0a1.4 1.4 0 1 0 2.8 0a1.4 1.4 0 1 0 -2.8 0ZM682.6 489.0a1.4 1.4 0 1 0 2.8 0a1.4 1.4 0 1 0 -2.8 0ZM691.6 486.0a1.4 1.4 0 1 0 2.8 0a1.4 1.4 0 1 0 -2.8 0ZM700.6 505.5a1.4 1.4 0 1 0 2.8 0a1.4 1.4 0 1 0 -2.8 0ZM688.6 504.0a1.4 1.4 0 1 0 2.8 0a1.4 1.4 0 1 0 -2.8 0ZM676.6 510.0a1.4 1.4 0 1 0 2.8 0a1.4 1.4 0 1 0 -2.8 0ZM663.1 513.0a1.4 1.4 0 1 0 2.8 0a1.4 1.4 0 1 0 -2.8 0ZM654.1 519.0a1.4 1.4 0 1 0 2.8 0a1.4 1.4 0 1 0 -2.8 0ZM670.6 522.0a1.4 1.4 0 1 0 2.8 0a1.4 1.4 0 1 0 -2.8 0ZM682.6 520.5a1.4 1.4 0 1 0 2.8 0a1.4 1.4 0 1 0 -2.8 0ZM694.6 513.0a1.4 1.4 0 1 0 2.8 0a1.4 1.4 0 1 0 -2.8 0ZM696.1 493.5a1.4 1.4 0 1 0 2.8 0a1.4 1.4 0 1 0 -2.8 0ZM666.1 487.5a1.4 1.4 0 1 0 2.8 0a1.4 1.4 0 1 0 -2.8 0ZM657.1 499.5a1.4 1.4 0 1 0 2.8 0a1.4 1.4 0 1 0 -2.8 0ZM649.6 508.5a1.4 1.4 0 1 0 2.8 0a1.4 1.4 0 1 0 -2.8 0ZM679.6 499.5a1.4 1.4 0 1 0 2.8 0a1.4 1.4 0 1 0 -2.8 0ZM691.6 498.0a1.4 1.4 0 1 0 2.8 0a1.4 1.4 0 1 0 -2.8 0ZM702.2 535.9a1.4 1.4 0 1 0 2.8 0a1.4 1.4 0 1 0 -2.8 0ZM663.4 529.0a1.4 1.4 0 1 0 2.8 0a1.4 1.4 0 1 0 -2.8 0Z" fill="#000"/>
<path d="M408.2 322.1a3.5 3.5 0 1 0 7.0 0a3.5 3.5 0 1 0 -7.0 0ZM488.1 328.9a3.5 3.5 0 1 0 7.0 0a3.5 3.5 0 1 0 -7.0 0ZM487.0 351.2a3.5 3.5 0 1 0 7.0 0a3.5 3.5 0 1 0 -7.0 0ZM427.8 373.7a3.5 3.5 0 1 0 7.0 0a3.5 3.5 0 1 0 -7.0 0ZM504.4 393.0a3.5 3.5 0 1 0 7.0 0a3.5 3.5 0 1 0 -7.0 0ZM492.8 399.1a3.5 3.5 0 1 0 7.0 0a3.5 3.5 0 1 0 -7.0 0ZM489.4 421.5a3.5 3.5 0 1 0 7.0 0a3.5 3.5 0 1 0 -7.0 0ZM476.6 442.0a3.5 3.5 0 1 0 7.0 0a3.5 3.5 0 1 0 -7.0 0ZM482.5 509.5a3.5 3.5 0 1 0 7.0 0a3.5 3.5 0 1 0 -7.0 0ZM506.5 505.9a3.5 3.5 0 1 0 7.0 0a3.5 3.5 0 1 0 -7.0 0ZM470.9 561.5a3.5 3.5 0 1 0 7.0 0a3.5 3.5 0 1 0 -7.0 0ZM421.5 550.7a3.5 3.5 0 1 0 7.0 0a3.5 3.5 0 1 0 -7.0 0ZM200.8 650.5a3.5 3.5 0 1 0 7.0 0a3.5 3.5 0 1 0 -7.0 0ZM367.5 613.2a3.5 3.5 0 1 0 7.0 0a3.5 3.5 0 1 0 -7.0 0ZM374.2 633.7a3.5 3.5 0 1 0 7.0 0a3.5 3.5 0 1 0 -7.0 0ZM430.9 641.8a3.5 3.5 0 1 0 7.0 0a3.5 3.5 0 1 0 -7.0 0ZM457.6 657.8a3.5 3.5 0 1 0 7.0 0a3.5 3.5 0 1 0 -7.0 0ZM455.9 598.4a3.5 3.5 0 1 0 7.0 0a3.5 3.5 0 1 0 -7.0 0ZM452.5 616.5a3.5 3.5 0 1 0 7.0 0a3.5 3.5 0 1 0 -7.0 0ZM474.4 581.1a3.5 3.5 0 1 0 7.0 0a3.5 3.5 0 1 0 -7.0 0ZM496.4 596.0a3.5 3.5 0 1 0 7.0 0a3.5 3.5 0 1 0 -7.0 0ZM555.0 754.4a3.5 3.5 0 1 0 7.0 0a3.5 3.5 0 1 0 -7.0 0ZM598.3 659.9a3.5 3.5 0 1 0 7.0 0a3.5 3.5 0 1 0 -7.0 0ZM615.5 664.6a3.5 3.5 0 1 0 7.0 0a3.5 3.5 0 1 0 -7.0 0ZM675.4 670.8a3.5 3.5 0 1 0 7.0 0a3.5 3.5 0 1 0 -7.0 0ZM708.0 682.7a3.5 3.5 0 1 0 7.0 0a3.5 3.5 0 1 0 -7.0 0ZM434.8 571.4a3.5 3.5 0 1 0 7.0 0a3.5 3.5 0 1 0 -7.0 0ZM443.1 570.3a3.5 3.5 0 1 0 7.0 0a3.5 3.5 0 1 0 -7.0 0ZM457.7 576.9a3.5 3.5 0 1 0 7.0 0a3.5 3.5 0 1 0 -7.0 0ZM561.7 525.0a3.5 3.5 0 1 0 7.0 0a3.5 3.5 0 1 0 -7.0 0ZM571.0 522.2a3.5 3.5 0 1 0 7.0 0a3.5 3.5 0 1 0 -7.0 0ZM585.5 568.6a3.5 3.5 0 1 0 7.0 0a3.5 3.5 0 1 0 -7.0 0ZM572.4 575.5a3.5 3.5 0 1 0 7.0 0a3.5 3.5 0 1 0 -7.0 0ZM556.0 583.8a3.5 3.5 0 1 0 7.0 0a3.5 3.5 0 1 0 -7.0 0ZM583.6 585.9a3.5 3.5 0 1 0 7.0 0a3.5 3.5 0 1 0 -7.0 0ZM534.4 604.5a3.5 3.5 0 1 0 7.0 0a3.5 3.5 0 1 0 -7.0 0ZM560.6 608.4a3.5 3.5 0 1 0 7.0 0a3.5 3.5 0 1 0 -7.0 0ZM513.4 619.7a3.5 3.5 0 1 0 7.0 0a3.5 3.5 0 1 0 -7.0 0ZM519.4 631.2a3.5 3.5 0 1 0 7.0 0a3.5 3.5 0 1 0 -7.0 0ZM544.8 634.1a3.5 3.5 0 1 0 7.0 0a3.5 3.5 0 1 0 -7.0 0ZM557.4 634.1a3.5 3.5 0 1 0 7.0 0a3.5 3.5 0 1 0 -7.0 0ZM572.7 633.4a3.5 3.5 0 1 0 7.0 0a3.5 3.5 0 1 0 -7.0 0ZM564.6 646.7a3.5 3.5 0 1 0 7.0 0a3.5 3.5 0 1 0 -7.0 0ZM566.0 384.2a3.5 3.5 0 1 0 7.0 0a3.5 3.5 0 1 0 -7.0 0ZM607.5 402.8a3.5 3.5 0 1 0 7.0 0a3.5 3.5 0 1 0 -7.0 0ZM623.2 398.8a3.5 3.5 0 1 0 7.0 0a3.5 3.5 0 1 0 -7.0 0ZM568.0 411.2a3.5 3.5 0 1 0 7.0 0a3.5 3.5 0 1 0 -7.0 0ZM592.5 416.3a3.5 3.5 0 1 0 7.0 0a3.5 3.5 0 1 0 -7.0 0ZM657.6 432.0a3.5 3.5 0 1 0 7.0 0a3.5 3.5 0 1 0 -7.0 0ZM569.2 439.2a3.5 3.5 0 1 0 7.0 0a3.5 3.5 0 1 0 -7.0 0ZM569.2 443.0a3.5 3.5 0 1 0 7.0 0a3.5 3.5 0 1 0 -7.0 0ZM559.2 451.2a3.5 3.5 0 1 0 7.0 0a3.5 3.5 0 1 0 -7.0 0ZM660.3 455.2a3.5 3.5 0 1 0 7.0 0a3.5 3.5 0 1 0 -7.0 0ZM599.3 461.8a3.5 3.5 0 1 0 7.0 0a3.5 3.5 0 1 0 -7.0 0ZM603.5 461.8a3.5 3.5 0 1 0 7.0 0a3.5 3.5 0 1 0 -7.0 0ZM544.8 469.0a3.5 3.5 0 1 0 7.0 0a3.5 3.5 0 1 0 -7.0 0ZM561.3 477.5a3.5 3.5 0 1 0 7.0 0a3.5 3.5 0 1 0 -7.0 0ZM553.2 487.0a3.5 3.5 0 1 0 7.0 0a3.5 3.5 0 1 0 -7.0 0ZM613.6 481.8a3.5 3.5 0 1 0 7.0 0a3.5 3.5 0 1 0 -7.0 0ZM603.1 489.6a3.5 3.5 0 1 0 7.0 0a3.5 3.5 0 1 0 -7.0 0ZM536.7 508.7a3.5 3.5 0 1 0 7.0 0a3.5 3.5 0 1 0 -7.0 0ZM581.2 500.0a3.5 3.5 0 1 0 7.0 0a3.5 3.5 0 1 0 -7.0 0ZM603.1 506.7a3.5 3.5 0 1 0 7.0 0a3.5 3.5 0 1 0 -7.0 0ZM594.0 513.5a3.5 3.5 0 1 0 7.0 0a3.5 3.5 0 1 0 -7.0 0ZM595.9 516.5a3.5 3.5 0 1 0 7.0 0a3.5 3.5 0 1 0 -7.0 0ZM636.7 519.4a3.5 3.5 0 1 0 7.0 0a3.5 3.5 0 1 0 -7.0 0ZM612.3 533.7a3.5 3.5 0 1 0 7.0 0a3.5 3.5 0 1 0 -7.0 0ZM589.5 566.4a3.5 3.5 0 1 0 7.0 0a3.5 3.5 0 1 0 -7.0 0ZM600.5 563.3a3.5 3.5 0 1 0 7.0 0a3.5 3.5 0 1 0 -7.0 0ZM665.6 568.4a3.5 3.5 0 1 0 7.0 0a3.5 3.5 0 1 0 -7.0 0ZM685.9 600.6a3.5 3.5 0 1 0 7.0 0a3.5 3.5 0 1 0 -7.0 0ZM677.0 605.7a3.5 3.5 0 1 0 7.0 0a3.5 3.5 0 1 0 -7.0 0ZM672.3 613.3a3.5 3.5 0 1 0 7.0 0a3.5 3.5 0 1 0 -7.0 0ZM720.1 603.5a3.5 3.5 0 1 0 7.0 0a3.5 3.5 0 1 0 -7.0 0ZM726.2 608.2a3.5 3.5 0 1 0 7.0 0a3.5 3.5 0 1 0 -7.0 0ZM721.2 575.0a3.5 3.5 0 1 0 7.0 0a3.5 3.5 0 1 0 -7.0 0ZM727.4 576.7a3.5 3.5 0 1 0 7.0 0a3.5 3.5 0 1 0 -7.0 0ZM739.8 552.4a3.5 3.5 0 1 0 7.0 0a3.5 3.5 0 1 0 -7.0 0ZM749.4 541.7a3.5 3.5 0 1 0 7.0 0a3.5 3.5 0 1 0 -7.0 0ZM761.6 547.8a3.5 3.5 0 1 0 7.0 0a3.5 3.5 0 1 0 -7.0 0ZM763.9 557.4a3.5 3.5 0 1 0 7.0 0a3.5 3.5 0 1 0 -7.0 0ZM751.6 571.2a3.5 3.5 0 1 0 7.0 0a3.5 3.5 0 1 0 -7.0 0ZM778.0 605.9a3.5 3.5 0 1 0 7.0 0a3.5 3.5 0 1 0 -7.0 0ZM735.9 619.9a3.5 3.5 0 1 0 7.0 0a3.5 3.5 0 1 0 -7.0 0ZM719.0 633.0a3.5 3.5 0 1 0 7.0 0a3.5 3.5 0 1 0 -7.0 0ZM733.2 654.4a3.5 3.5 0 1 0 7.0 0a3.5 3.5 0 1 0 -7.0 0ZM663.8 534.9a3.5 3.5 0 1 0 7.0 0a3.5 3.5 0 1 0 -7.0 0ZM705.7 536.7a3.5 3.5 0 1 0 7.0 0a3.5 3.5 0 1 0 -7.0 0ZM698.2 371.2a3.5 3.5 0 1 0 7.0 0a3.5 3.5 0 1 0 -7.0 0ZM679.6 394.4a3.5 3.5 0 1 0 7.0 0a3.5 3.5 0 1 0 -7.0 0ZM709.8 392.6a3.5 3.5 0 1 0 7.0 0a3.5 3.5 0 1 0 -7.0 0ZM726.5 395.2a3.5 3.5 0 1 0 7.0 0a3.5 3.5 0 1 0 -7.0 0ZM744.9 401.6a3.5 3.5 0 1 0 7.0 0a3.5 3.5 0 1 0 -7.0 0ZM708.2 413.7a3.5 3.5 0 1 0 7.0 0a3.5 3.5 0 1 0 -7.0 0ZM686.5 438.0a3.5 3.5 0 1 0 7.0 0a3.5 3.5 0 1 0 -7.0 0ZM713.2 427.5a3.5 3.5 0 1 0 7.0 0a3.5 3.5 0 1 0 -7.0 0ZM739.2 426.8a3.5 3.5 0 1 0 7.0 0a3.5 3.5 0 1 0 -7.0 0ZM681.5 449.2a3.5 3.5 0 1 0 7.0 0a3.5 3.5 0 1 0 -7.0 0ZM707.0 450.8a3.5 3.5 0 1 0 7.0 0a3.5 3.5 0 1 0 -7.0 0ZM737.4 456.3a3.5 3.5 0 1 0 7.0 0a3.5 3.5 0 1 0 -7.0 0ZM708.2 462.5a3.5 3.5 0 1 0 7.0 0a3.5 3.5 0 1 0 -7.0 0ZM799.4 385.9a3.5 3.5 0 1 0 7.0 0a3.5 3.5 0 1 0 -7.0 0ZM809.0 398.1a3.5 3.5 0 1 0 7.0 0a3.5 3.5 0 1 0 -7.0 0ZM815.7 457.5a3.5 3.5 0 1 0 7.0 0a3.5 3.5 0 1 0 -7.0 0ZM827.3 465.8a3.5 3.5 0 1 0 7.0 0a3.5 3.5 0 1 0 -7.0 0ZM841.5 445.8a3.5 3.5 0 1 0 7.0 0a3.5 3.5 0 1 0 -7.0 0ZM838.2 450.8a3.5 3.5 0 1 0 7.0 0a3.5 3.5 0 1 0 -7.0 0ZM855.7 450.8a3.5 3.5 0 1 0 7.0 0a3.5 3.5 0 1 0 -7.0 0ZM811.1 501.2a3.5 3.5 0 1 0 7.0 0a3.5 3.5 0 1 0 -7.0 0ZM769.0 506.5a3.5 3.5 0 1 0 7.0 0a3.5 3.5 0 1 0 -7.0 0ZM868.2 417.5a3.5 3.5 0 1 0 7.0 0a3.5 3.5 0 1 0 -7.0 0ZM900.7 427.5a3.5 3.5 0 1 0 7.0 0a3.5 3.5 0 1 0 -7.0 0ZM874.2 556.1a3.5 3.5 0 1 0 7.0 0a3.5 3.5 0 1 0 -7.0 0ZM951.7 228.8a3.5 3.5 0 1 0 7.0 0a3.5 3.5 0 1 0 -7.0 0ZM958.6 288.3a3.5 3.5 0 1 0 7.0 0a3.5 3.5 0 1 0 -7.0 0ZM756.8 296.1a3.5 3.5 0 1 0 7.0 0a3.5 3.5 0 1 0 -7.0 0ZM823.9 306.4a3.5 3.5 0 1 0 7.0 0a3.5 3.5 0 1 0 -7.0 0ZM842.0 304.0a3.5 3.5 0 1 0 7.0 0a3.5 3.5 0 1 0 -7.0 0ZM857.9 303.8a3.5 3.5 0 1 0 7.0 0a3.5 3.5 0 1 0 -7.0 0ZM902.1 322.6a3.5 3.5 0 1 0 7.0 0a3.5 3.5 0 1 0 -7.0 0ZM907.0 350.4a3.5 3.5 0 1 0 7.0 0a3.5 3.5 0 1 0 -7.0 0ZM777.1 362.0a3.5 3.5 0 1 0 7.0 0a3.5 3.5 0 1 0 -7.0 0ZM804.1 357.6a3.5 3.5 0 1 0 7.0 0a3.5 3.5 0 1 0 -7.0 0ZM953.1 397.9a3.5 3.5 0 1 0 7.0 0a3.5 3.5 0 1 0 -7.0 0ZM1052.8 242.8a3.5 3.5 0 1 0 7.0 0a3.5 3.5 0 1 0 -7.0 0ZM978.6 322.8a3.5 3.5 0 1 0 7.0 0a3.5 3.5 0 1 0 -7.0 0ZM1064.9 317.0a3.5 3.5 0 1 0 7.0 0a3.5 3.5 0 1 0 -7.0 0ZM1100.8 322.8a3.5 3.5 0 1 0 7.0 0a3.5 3.5 0 1 0 -7.0 0ZM1126.3 375.3a3.5 3.5 0 1 0 7.0 0a3.5 3.5 0 1 0 -7.0 0ZM1019.0 408.8a3.5 3.5 0 1 0 7.0 0a3.5 3.5 0 1 0 -7.0 0ZM1063.5 397.7a3.5 3.5 0 1 0 7.0 0a3.5 3.5 0 1 0 -7.0 0ZM1132.5 418.4a3.5 3.5 0 1 0 7.0 0a3.5 3.5 0 1 0 -7.0 0ZM1052.8 509.2a3.5 3.5 0 1 0 7.0 0a3.5 3.5 0 1 0 -7.0 0ZM1021.7 582.3a3.5 3.5 0 1 0 7.0 0a3.5 3.5 0 1 0 -7.0 0ZM1032.1 601.3a3.5 3.5 0 1 0 7.0 0a3.5 3.5 0 1 0 -7.0 0ZM532.5 367.6a3.5 3.5 0 1 0 7.0 0a3.5 3.5 0 1 0 -7.0 0ZM583.8 310.7a3.5 3.5 0 1 0 7.0 0a3.5 3.5 0 1 0 -7.0 0ZM617.2 350.8a3.5 3.5 0 1 0 7.0 0a3.5 3.5 0 1 0 -7.0 0ZM643.8 326.8a3.5 3.5 0 1 0 7.0 0a3.5 3.5 0 1 0 -7.0 0ZM673.7 286.2a3.5 3.5 0 1 0 7.0 0a3.5 3.5 0 1 0 -7.0 0ZM682.5 289.5a3.5 3.5 0 1 0 7.0 0a3.5 3.5 0 1 0 -7.0 0ZM681.8 259.8a3.5 3.5 0 1 0 7.0 0a3.5 3.5 0 1 0 -7.0 0ZM729.2 277.8a3.5 3.5 0 1 0 7.0 0a3.5 3.5 0 1 0 -7.0 0ZM689.5 335.7a3.5 3.5 0 1 0 7.0 0a3.5 3.5 0 1 0 -7.0 0ZM669.7 352.0a3.5 3.5 0 1 0 7.0 0a3.5 3.5 0 1 0 -7.0 0ZM675.5 355.5a3.5 3.5 0 1 0 7.0 0a3.5 3.5 0 1 0 -7.0 0ZM808.5 581.3a3.5 3.5 0 1 0 7.0 0a3.5 3.5 0 1 0 -7.0 0ZM815.8 589.9a3.5 3.5 0 1 0 7.0 0a3.5 3.5 0 1 0 -7.0 0ZM804.8 607.8a3.5 3.5 0 1 0 7.0 0a3.5 3.5 0 1 0 -7.0 0ZM840.9 612.1a3.5 3.5 0 1 0 7.0 0a3.5 3.5 0 1 0 -7.0 0ZM797.3 619.2a3.5 3.5 0 1 0 7.0 0a3.5 3.5 0 1 0 -7.0 0ZM785.8 691.3a3.5 3.5 0 1 0 7.0 0a3.5 3.5 0 1 0 -7.0 0ZM855.4 720.3a3.5 3.5 0 1 0 7.0 0a3.5 3.5 0 1 0 -7.0 0ZM882.7 627.8a3.5 3.5 0 1 0 7.0 0a3.5 3.5 0 1 0 -7.0 0ZM884.1 634.3a3.5 3.5 0 1 0 7.0 0a3.5 3.5 0 1 0 -7.0 0ZM700.2 506.8a3.5 3.5 0 1 0 7.0 0a3.5 3.5 0 1 0 -7.0 0ZM698.0 512.8a3.5 3.5 0 1 0 7.0 0a3.5 3.5 0 1 0 -7.0 0ZM650.1 495.6a3.5 3.5 0 1 0 7.0 0a3.5 3.5 0 1 0 -7.0 0ZM669.9 485.9a3.5 3.5 0 1 0 7.0 0a3.5 3.5 0 1 0 -7.0 0Z" fill="#000"/>
<path d="M636.8 265.2a3.5 3.5 0 1 0 7.0 0a3.5 3.5 0 1 0 -7.0 0ZM567.3 361.2a3.5 3.5 0 1 0 7.0 0a3.5 3.5 0 1 0 -7.0 0Z" fill="#000"/>
<path d="M636.8 268.0a3.5 3.5 0 1 0 7.0 0a3.5 3.5 0 1 0 -7.0 0ZM568.9 363.8a3.5 3.5 0 1 0 7.0 0a3.5 3.5 0 1 0 -7.0 0Z" fill="#000"/>
<path d="M238.70 76.60L238.70 101.80M238.70 76.60L249.24 76.60L252.76 77.80L253.93 79.00L255.10 81.40L255.10 83.80L253.93 86.20L252.76 87.40L249.24 88.60L238.70 88.60M246.90 88.60L255.10 101.80" fill="none" stroke="#000" stroke-width="3.4" stroke-linecap="round" stroke-linejoin="round"/>
<path d="M266.10 81.40L268.58 80.20L272.30 76.60L272.30 101.80" fill="none" stroke="#000" stroke-width="3.4" stroke-linecap="round" stroke-linejoin="round"/>
<path d="M960.00 614.40L960.00 637.80M960.00 614.40L970.54 614.40L974.06 615.51L975.23 616.63L976.40 618.86L976.40 621.09L975.23 623.31L974.06 624.43L970.54 625.54L960.00 625.54M968.20 625.54L976.40 637.80" fill="none" stroke="#000" stroke-width="3.4" stroke-linecap="round" stroke-linejoin="round"/>
<path d="M985.37 619.97L985.37 618.86L986.54 616.63L987.71 615.51L990.06 614.40L994.74 614.40L997.09 615.51L998.26 616.63L999.43 618.86L999.43 621.09L998.26 623.31L995.91 626.66L984.20 637.80L1000.60 637.80" fill="none" stroke="#000" stroke-width="3.4" stroke-linecap="round" stroke-linejoin="round"/>
<path d="M638.30 399.87L637.11 397.50L634.73 395.13L632.35 393.95L627.59 393.95L625.21 395.13L622.83 397.50L621.64 399.87L620.45 403.42L620.45 409.33L621.64 412.88L622.83 415.25L625.21 417.62L627.59 418.80L632.35 418.80L634.73 417.62L637.11 415.25L638.30 412.88L638.30 409.33M632.35 409.33L638.30 409.33" fill="none" stroke="#000" stroke-width="3.4" stroke-linecap="round" stroke-linejoin="round"/>
<path d="M648.95 398.68L651.49 397.50L655.30 393.95L655.30 418.80" fill="none" stroke="#000" stroke-width="3.4" stroke-linecap="round" stroke-linejoin="round"/>
<path d="M715.40 629.44L714.21 627.14L711.82 624.85L709.43 623.70L704.66 623.70L702.27 624.85L699.89 627.14L698.69 629.44L697.50 632.88L697.50 638.62L698.69 642.06L699.89 644.36L702.27 646.65L704.66 647.80L709.43 647.80L711.82 646.65L714.21 644.36L715.40 642.06L715.40 638.62M709.43 638.62L715.40 638.62" fill="none" stroke="#000" stroke-width="3.4" stroke-linecap="round" stroke-linejoin="round"/>
<path d="M723.29 629.44L723.29 628.29L724.39 626.00L725.48 624.85L727.66 623.70L732.04 623.70L734.22 624.85L735.31 626.00L736.41 628.29L736.41 630.59L735.31 632.88L733.13 636.32L722.20 647.80L737.50 647.80" fill="none" stroke="#000" stroke-width="3.4" stroke-linecap="round" stroke-linejoin="round"/>
<path d="M987.90 357.39L986.71 355.11L984.32 352.84L981.93 351.70L977.16 351.70L974.77 352.84L972.39 355.11L971.19 357.39L970.00 360.80L970.00 366.50L971.19 369.91L972.39 372.19L974.77 374.46L977.16 375.60L981.93 375.60L984.32 374.46L986.71 372.19L987.90 369.91L987.90 366.50M981.93 366.50L987.90 366.50" fill="none" stroke="#000" stroke-width="3.4" stroke-linecap="round" stroke-linejoin="round"/>
<path d="M998.10 351.70L1011.30 351.70L1004.10 360.80L1007.70 360.80L1010.10 361.94L1011.30 363.08L1012.50 366.50L1012.50 368.77L1011.30 372.19L1008.90 374.46L1005.30 375.60L1001.70 375.60L998.10 374.46L996.90 373.32L995.70 371.05" fill="none" stroke="#000" stroke-width="3.4" stroke-linecap="round" stroke-linejoin="round"/>
<path d="M1086.60 104.63L1085.41 102.26L1083.02 99.89L1080.63 98.70L1075.86 98.70L1073.47 99.89L1071.09 102.26L1069.89 104.63L1068.70 108.19L1068.70 114.11L1069.89 117.67L1071.09 120.04L1073.47 122.41L1075.86 123.60L1080.63 123.60L1083.02 122.41L1085.41 120.04L1086.60 117.67L1086.60 114.11M1080.63 114.11L1086.60 114.11" fill="none" stroke="#000" stroke-width="3.4" stroke-linecap="round" stroke-linejoin="round"/>
<path d="M1105.43 98.70L1093.70 115.30L1111.30 115.30M1105.43 98.70L1105.43 123.60" fill="none" stroke="#000" stroke-width="3.4" stroke-linecap="round" stroke-linejoin="round"/>
<path d="M310.10 323.51L308.91 321.19L306.52 318.86L304.13 317.70L299.36 317.70L296.97 318.86L294.59 321.19L293.39 323.51L292.20 327.00L292.20 332.80L293.39 336.29L294.59 338.61L296.97 340.94L299.36 342.10L304.13 342.10L306.52 340.94L308.91 338.61L310.10 336.29L310.10 332.80M304.13 332.80L310.10 332.80" fill="none" stroke="#000" stroke-width="3.4" stroke-linecap="round" stroke-linejoin="round"/>
<path d="M331.61 317.70L319.69 317.70L318.49 328.16L319.69 327.00L323.26 325.83L326.84 325.83L330.42 327.00L332.81 329.32L334.00 332.80L334.00 335.13L332.81 338.61L330.42 340.94L326.84 342.10L323.26 342.10L319.69 340.94L318.49 339.78L317.30 337.45" fill="none" stroke="#000" stroke-width="3.4" stroke-linecap="round" stroke-linejoin="round"/>
<path d="M299.20 826.56L298.01 824.21L295.62 821.87L293.23 820.70L288.46 820.70L286.07 821.87L283.69 824.21L282.49 826.56L281.30 830.07L281.30 835.93L282.49 839.44L283.69 841.79L286.07 844.13L288.46 845.30L293.23 845.30L295.62 844.13L298.01 841.79L299.20 839.44L299.20 835.93M293.23 835.93L299.20 835.93" fill="none" stroke="#000" stroke-width="3.4" stroke-linecap="round" stroke-linejoin="round"/>
<path d="M321.88 824.21L320.67 821.87L317.02 820.70L314.59 820.70L310.95 821.87L308.52 825.39L307.30 831.24L307.30 837.10L308.52 841.79L310.95 844.13L314.59 845.30L315.81 845.30L319.45 844.13L321.88 841.79L323.10 838.27L323.10 837.10L321.88 833.59L319.45 831.24L315.81 830.07L314.59 830.07L310.95 831.24L308.52 833.59L307.30 837.10" fill="none" stroke="#000" stroke-width="3.4" stroke-linecap="round" stroke-linejoin="round"/>
<path d="M474.20 870.39L472.99 868.07L470.56 865.76L468.13 864.60L463.28 864.60L460.85 865.76L458.43 868.07L457.21 870.39L456.00 873.86L456.00 879.64L457.21 883.11L458.43 885.43L460.85 887.74L463.28 888.90L468.13 888.90L470.56 887.74L472.99 885.43L474.20 883.11L474.20 879.64M468.13 879.64L474.20 879.64" fill="none" stroke="#000" stroke-width="3.4" stroke-linecap="round" stroke-linejoin="round"/>
<path d="M498.10 864.60L486.39 888.90M481.70 864.60L498.10 864.60" fill="none" stroke="#000" stroke-width="3.4" stroke-linecap="round" stroke-linejoin="round"/>
<path d="M695.30 137.56L693.97 135.21L691.30 132.87L688.63 131.70L683.30 131.70L680.63 132.87L677.97 135.21L676.63 137.56L675.30 141.07L675.30 146.93L676.63 150.44L677.97 152.79L680.63 155.13L683.30 156.30L688.63 156.30L691.30 155.13L693.97 152.79L695.30 150.44L695.30 146.93M688.63 146.93L695.30 146.93" fill="none" stroke="#000" stroke-width="3.4" stroke-linecap="round" stroke-linejoin="round"/>
<path d="M712.10 131.70L699.70 148.10L718.30 148.10M712.10 131.70L712.10 156.30" fill="none" stroke="#000" stroke-width="3.4" stroke-linecap="round" stroke-linejoin="round"/>
<path d="M729.70 136.39L731.54 135.21L734.30 131.70L734.30 156.30" fill="none" stroke="#000" stroke-width="3.4" stroke-linecap="round" stroke-linejoin="round"/>
<path d="M838.30 137.56L836.93 135.21L834.18 132.87L831.43 131.70L825.94 131.70L823.19 132.87L820.45 135.21L819.07 137.56L817.70 141.07L817.70 146.93L819.07 150.44L820.45 152.79L823.19 155.13L825.94 156.30L831.43 156.30L834.18 155.13L836.93 152.79L838.30 150.44L838.30 146.93M831.43 146.93L838.30 146.93" fill="none" stroke="#000" stroke-width="3.4" stroke-linecap="round" stroke-linejoin="round"/>
<path d="M854.43 131.70L842.70 148.10L860.30 148.10M854.43 131.70L854.43 156.30" fill="none" stroke="#000" stroke-width="3.4" stroke-linecap="round" stroke-linejoin="round"/>
<path d="M866.89 137.56L866.89 136.39L868.07 134.04L869.26 132.87L871.63 131.70L876.37 131.70L878.74 132.87L879.93 134.04L881.11 136.39L881.11 138.73L879.93 141.07L877.56 144.59L865.70 156.30L882.30 156.30" fill="none" stroke="#000" stroke-width="3.4" stroke-linecap="round" stroke-linejoin="round"/>
<path d="M211.03 1067.65H231.47" stroke="#000" stroke-width="2.45" stroke-linecap="round"/>
<path d="M252.96 1052.72L240.92 1069.29L258.97 1069.29M252.96 1052.72L252.96 1077.57" fill="none" stroke="#000" stroke-width="2.45" stroke-linecap="round" stroke-linejoin="round"/>
<path d="M429.98 1067.65H451.47" stroke="#000" stroke-width="2.45" stroke-linecap="round"/>
<path d="M460.93 1058.64L460.93 1057.46L462.13 1055.09L463.34 1053.91L465.74 1052.72L470.56 1052.72L472.96 1053.91L474.17 1055.09L475.37 1057.46L475.37 1059.82L474.17 1062.19L471.76 1065.74L459.73 1077.57L476.58 1077.57" fill="none" stroke="#000" stroke-width="2.45" stroke-linecap="round" stroke-linejoin="round"/>
<path d="M670.32 1052.72L666.77 1053.91L664.41 1057.46L663.23 1063.38L663.23 1066.92L664.41 1072.84L666.77 1076.39L670.32 1077.57L672.68 1077.57L676.23 1076.39L678.59 1072.84L679.77 1066.92L679.77 1063.38L678.59 1057.46L676.23 1053.91L672.68 1052.72L670.32 1052.72" fill="none" stroke="#000" stroke-width="2.45" stroke-linecap="round" stroke-linejoin="round"/>
<path d="M882.83 1058.64L882.83 1057.46L884.03 1055.09L885.24 1053.91L887.64 1052.72L892.46 1052.72L894.86 1053.91L896.07 1055.09L897.27 1057.46L897.27 1059.82L896.07 1062.19L893.66 1065.74L881.62 1077.57L898.48 1077.57" fill="none" stroke="#000" stroke-width="2.45" stroke-linecap="round" stroke-linejoin="round"/>
<path d="M1112.06 1052.72L1100.02 1069.29L1118.07 1069.29M1112.06 1052.72L1112.06 1077.57" fill="none" stroke="#000" stroke-width="2.45" stroke-linecap="round" stroke-linejoin="round"/>
<path d="M110.96 56.02L99.32 72.72L116.77 72.72M110.96 56.02L110.96 81.08" fill="none" stroke="#000" stroke-width="2.45" stroke-linecap="round" stroke-linejoin="round"/>
<path d="M100.73 281.39L100.73 280.22L101.93 277.87L103.14 276.70L105.54 275.53L110.36 275.53L112.76 276.70L113.97 277.87L115.17 280.22L115.17 282.57L113.97 284.92L111.56 288.44L99.52 300.18L116.37 300.18" fill="none" stroke="#000" stroke-width="2.45" stroke-linecap="round" stroke-linejoin="round"/>
<path d="M106.53 494.03L102.88 495.19L100.44 498.70L99.22 504.55L99.22 508.05L100.44 513.90L102.88 517.41L106.53 518.57L108.97 518.57L112.62 517.41L115.06 513.90L116.27 508.05L116.27 504.55L115.06 498.70L112.62 495.19L108.97 494.03L106.53 494.03" fill="none" stroke="#000" stroke-width="2.45" stroke-linecap="round" stroke-linejoin="round"/>
<path d="M69.72 726.25H90.78" stroke="#000" stroke-width="2.45" stroke-linecap="round"/>
<path d="M100.24 718.29L100.24 717.12L101.46 714.77L102.68 713.60L105.11 712.43L109.99 712.43L112.42 713.60L113.64 714.77L114.86 717.12L114.86 719.47L113.64 721.82L111.20 725.34L99.02 737.07L116.07 737.07" fill="none" stroke="#000" stroke-width="2.45" stroke-linecap="round" stroke-linejoin="round"/>
<path d="M69.72 945.00H90.78" stroke="#000" stroke-width="2.45" stroke-linecap="round"/>
<path d="M111.09 931.43L98.72 947.52L117.27 947.52M111.09 931.43L111.09 955.57" fill="none" stroke="#000" stroke-width="2.45" stroke-linecap="round" stroke-linejoin="round"/>
<path d="M598.98 1122.72L589.93 1147.27M598.98 1122.72L608.02 1147.27M589.93 1147.27L608.02 1147.27" fill="none" stroke="#000" stroke-width="2.45" stroke-linecap="round" stroke-linejoin="round"/>
<path d="M613.48 1130.97L626.48 1147.27M626.48 1130.97L613.48 1147.27" fill="none" stroke="#000" stroke-width="2.45" stroke-linecap="round" stroke-linejoin="round"/>
<path d="M661.57 1117.92L659.40 1120.23L657.23 1123.68L655.06 1128.29L653.98 1134.05L653.98 1138.65L655.06 1144.41L657.23 1149.02L659.40 1152.47L661.57 1154.77" fill="none" stroke="#000" stroke-width="2.45" stroke-linecap="round" stroke-linejoin="round"/>
<path d="M670.02 1122.72L670.02 1147.27M670.02 1122.72L679.75 1147.27M689.48 1122.72L679.75 1147.27M689.48 1122.72L689.48 1147.27" fill="none" stroke="#000" stroke-width="2.45" stroke-linecap="round" stroke-linejoin="round"/>
<path d="M698.98 1131.22L698.98 1154.77M698.98 1134.59L700.94 1132.35L702.91 1131.22L705.86 1131.22L707.83 1132.35L709.79 1134.59L710.77 1137.95L710.77 1140.20L709.79 1143.56L707.83 1145.80L705.86 1146.92L702.91 1146.92L700.94 1145.80L698.98 1143.56" fill="none" stroke="#000" stroke-width="2.45" stroke-linecap="round" stroke-linejoin="round"/>
<path d="M734.02 1134.73L731.68 1132.39L729.34 1131.22L725.83 1131.22L723.49 1132.39L721.15 1134.73L719.98 1138.23L719.98 1140.57L721.15 1144.07L723.49 1146.41L725.83 1147.57L729.34 1147.57L731.68 1146.41L734.02 1144.07" fill="none" stroke="#000" stroke-width="2.45" stroke-linecap="round" stroke-linejoin="round"/>
<path d="M741.73 1117.92L744.02 1120.23L746.33 1123.68L748.62 1128.29L749.77 1134.05L749.77 1138.65L748.62 1144.41L746.33 1149.02L744.02 1152.47L741.73 1154.77" fill="none" stroke="#000" stroke-width="2.45" stroke-linecap="round" stroke-linejoin="round"/>
<path d="M6.62 589.55L30.57 598.07M6.62 589.55L30.57 581.02M30.57 598.07L30.57 581.02" fill="none" stroke="#000" stroke-width="2.45" stroke-linecap="round" stroke-linejoin="round"/>
<path d="M15.22 575.21L31.19 568.82M15.22 562.43L31.19 568.82L35.75 570.95L38.03 573.08L39.17 575.21L39.17 576.27" fill="none" stroke="#000" stroke-width="2.45" stroke-linecap="round" stroke-linejoin="round"/>
<path d="M1.23 527.52L3.53 529.91L6.98 532.30L11.59 534.68L17.35 535.88L21.95 535.88L27.71 534.68L32.32 532.30L35.77 529.91L38.07 527.52" fill="none" stroke="#000" stroke-width="2.45" stroke-linecap="round" stroke-linejoin="round"/>
<path d="M6.62 518.77L30.57 518.77M6.62 518.77L30.57 509.95M6.62 501.12L30.57 509.95M6.62 501.12L30.57 501.12" fill="none" stroke="#000" stroke-width="2.45" stroke-linecap="round" stroke-linejoin="round"/>
<path d="M15.22 490.88L39.17 490.88M18.65 490.88L16.37 488.70L15.22 486.52L15.22 483.26L16.37 481.09L18.65 478.91L22.07 477.82L24.35 477.82L27.77 478.91L30.05 481.09L31.19 483.26L31.19 486.52L30.05 488.70L27.77 490.88" fill="none" stroke="#000" stroke-width="2.45" stroke-linecap="round" stroke-linejoin="round"/>
<path d="M18.58 456.02L16.34 458.22L15.22 460.41L15.22 463.70L16.34 465.89L18.58 468.08L21.93 469.17L24.17 469.17L27.52 468.08L29.76 465.89L30.88 463.70L30.88 460.41L29.76 458.22L27.52 456.02" fill="none" stroke="#000" stroke-width="2.45" stroke-linecap="round" stroke-linejoin="round"/>
<path d="M1.23 448.97L3.53 446.33L6.98 443.69L11.59 441.05L17.35 439.72L21.95 439.72L27.71 441.05L32.32 443.69L35.77 446.33L38.07 448.97" fill="none" stroke="#000" stroke-width="2.45" stroke-linecap="round" stroke-linejoin="round"/>
</svg></body></html>
